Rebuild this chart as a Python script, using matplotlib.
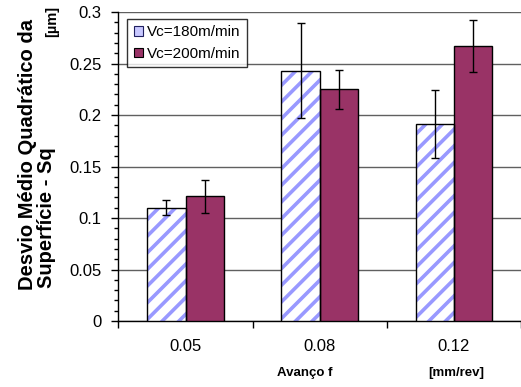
import matplotlib
matplotlib.use("Agg")
import matplotlib.pyplot as plt
import numpy as np
from matplotlib.ticker import MultipleLocator, FixedLocator, NullFormatter
from matplotlib.patches import Patch

categories = ["0.05", "0.08", "0.12"]
series_names = ["Vc=180m/min", "Vc=200m/min"]
vc180 = [0.110, 0.243, 0.191]
vc180_err = [0.007, 0.046, 0.033]
vc200 = [0.121, 0.225, 0.267]
vc200_err = [0.016, 0.019, 0.025]

plt.rcParams['font.family'] = ['Liberation Sans', 'DejaVu Sans']
plt.rcParams['hatch.linewidth'] = 2.6

fig = plt.figure(figsize=(5.21, 3.87), dpi=100)
ax = fig.add_axes([0.2274, 0.1705, 0.7726, 0.7985])

x = np.arange(len(categories))
w = 0.286
hatch_col = '#9999FF'
plum = '#993366'
# hatched bars: stripes in light blue on white, black outline on top
ax.bar(x - w/2, vc180, w, color='white', edgecolor=hatch_col, linewidth=0,
       hatch='//', zorder=3)
ax.bar(x - w/2, vc180, w, fill=False, edgecolor='black', linewidth=1, zorder=3.5)
ax.bar(x + w/2, vc200, w, color=plum, edgecolor='black', linewidth=1, zorder=3)
ax.errorbar(x - w/2, vc180, yerr=vc180_err, fmt='none', ecolor='black',
            elinewidth=1, capsize=3, capthick=1, zorder=4)
ax.errorbar(x + w/2, vc200, yerr=vc200_err, fmt='none', ecolor='black',
            elinewidth=1, capsize=3, capthick=1, zorder=4)

ax.set_xlim(-0.5, 2.5)
ax.set_ylim(0, 0.3)
ax.yaxis.set_major_locator(FixedLocator([0, 0.05, 0.1, 0.15, 0.2, 0.25, 0.3]))
ax.set_yticklabels(['0', '0.05', '0.1', '0.15', '0.2', '0.25', '0.3'])
ax.yaxis.set_minor_locator(MultipleLocator(0.01))
ax.grid(axis='y', which='major', color='#606060', linewidth=1, zorder=0)

ax.xaxis.set_major_locator(FixedLocator([-0.5, 0.5, 1.5, 2.5]))
ax.xaxis.set_major_formatter(NullFormatter())
ax.xaxis.set_minor_locator(FixedLocator(x))
ax.set_xticklabels(categories, minor=True)
ax.tick_params(axis='x', which='major', direction='out', length=5, width=1)
ax.tick_params(axis='x', which='minor', length=0, pad=13, labelsize=12)
ax.tick_params(axis='y', which='major', direction='out', length=5, width=1,
               pad=7, labelsize=12)
ax.tick_params(axis='y', which='minor', direction='out', length=3, width=1)

for s in ['top', 'right']:
    ax.spines[s].set_visible(False)
for s in ['left', 'bottom']:
    ax.spines[s].set_color('black')
    ax.spines[s].set_linewidth(1)

handles = [Patch(facecolor='#C8C8FF', edgecolor='#202060', linewidth=0.8),
           Patch(facecolor=plum, edgecolor='black', linewidth=0.8)]
leg = ax.legend(handles, series_names, loc='upper left',
                bbox_to_anchor=(9/403, 1 - 7/309), fontsize=11,
                frameon=True, fancybox=False, edgecolor='black',
                handlelength=0.6, handleheight=0.6, handletextpad=0.3,
                borderpad=0.4, labelspacing=0.5, borderaxespad=0)
leg.get_frame().set_linewidth(1)

fig.text(28/521, 1 - 290/387, "Desvio Médio Quadrático da",
         rotation=90, ha='center', va='bottom', fontsize=14.5, fontweight='bold')
fig.text(47/521, 1 - 288/387, "Superfície - Sq",
         rotation=90, ha='center', va='bottom', fontsize=14.5, fontweight='bold')
fig.text(52/521, 1 - 6/387, "[µm]", rotation=90, ha='center', va='top',
         fontsize=10.5, fontweight='bold')

fig.text(305/521, 1 - 373/387, "Avanço f", ha='center', va='center',
         fontsize=9.5, fontweight='bold')
fig.text(456/521, 1 - 373/387, "[mm/rev]", ha='center', va='center',
         fontsize=9.5, fontweight='bold')

fig.savefig('out.png', dpi=100)
